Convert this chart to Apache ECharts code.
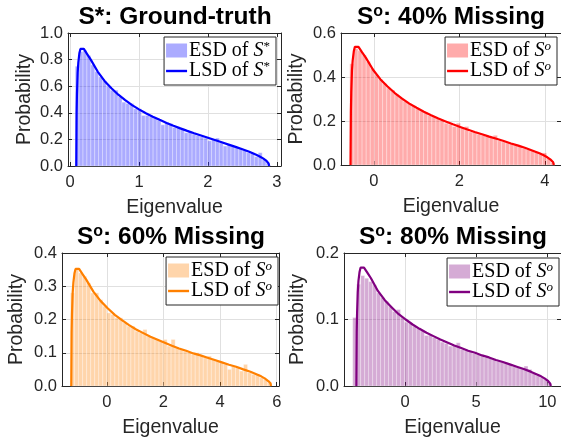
<!DOCTYPE html>
<html>
<head>
<meta charset="utf-8">
<script src="https://cdn.jsdelivr.net/npm/echarts@6/dist/echarts.min.js"></script>
<style>
  html, body { margin: 0; padding: 0; background: #fff; }
  #chart { width: 561px; height: 444px; }
</style>
</head>
<body>
<div id="chart"></div>
<script>
// histogram bins: first edge, bin width, bar heights
const esd1Start = 0.075, esd1Width = 0.0565;
const esd1 = [0.75, 0.86, 0.87, 0.83, 0.76, 0.71, 0.67, 0.64, 0.60, 0.57, 0.57, 0.52, 0.48, 0.47, 0.47, 0.43, 0.43, 0.38, 0.38, 0.37,
  0.36, 0.345, 0.31, 0.33, 0.32, 0.29, 0.29, 0.28, 0.25, 0.26, 0.24, 0.23, 0.22, 0.21, 0.19, 0.20, 0.21, 0.18, 0.15, 0.16,
  0.15, 0.14, 0.13, 0.12, 0.10, 0.10, 0.07, 0.10, 0.05, 0.02];

const esd2Start = -0.564, esd2Width = 0.096;
const esd2 = [0.46, 0.53, 0.52, 0.50, 0.47, 0.44, 0.41, 0.39, 0.37, 0.35, 0.34, 0.32, 0.305, 0.29, 0.28, 0.27, 0.255, 0.245, 0.24, 0.225,
  0.22, 0.21, 0.205, 0.19, 0.185, 0.175, 0.19, 0.17, 0.175, 0.15, 0.15, 0.14, 0.135, 0.13, 0.125, 0.135, 0.11, 0.105, 0.10, 0.10,
  0.09, 0.085, 0.075, 0.07, 0.065, 0.06, 0.05, 0.055, 0.03, 0.01];

const esd3Start = -1.278, esd3Width = 0.142;
const esd3 = [0.28, 0.35, 0.34, 0.33, 0.31, 0.28, 0.28, 0.26, 0.24, 0.22, 0.215, 0.205, 0.205, 0.19, 0.18, 0.18, 0.165, 0.16, 0.17, 0.15,
  0.145, 0.14, 0.135, 0.14, 0.12, 0.14, 0.115, 0.11, 0.105, 0.10, 0.095, 0.10, 0.09, 0.085, 0.09, 0.08, 0.075, 0.07, 0.065, 0.05,
  0.06, 0.055, 0.045, 0.065, 0.04, 0.035, 0.035, 0.025, 0.02, 0.01];

const esd4Start = -3.68, esd4Width = 0.28;
const esd4 = [0.103, 0.153, 0.166, 0.162, 0.157, 0.152, 0.14, 0.133, 0.127, 0.12, 0.112, 0.115, 0.104, 0.096, 0.094, 0.09, 0.087, 0.083, 0.076, 0.077,
  0.073, 0.07, 0.066, 0.064, 0.06, 0.061, 0.065, 0.055, 0.053, 0.052, 0.049, 0.047, 0.045, 0.043, 0.042, 0.04, 0.037, 0.036, 0.035, 0.033,
  0.029, 0.028, 0.026, 0.03, 0.025, 0.019, 0.016, 0.013, 0.01, 0.004];

// limiting spectral density curves [eigenvalue, probability]
const lsd1 = [[0.09, 0], [0.095, 0.40], [0.1, 0.54], [0.11, 0.70], [0.12, 0.78], [0.135, 0.847], [0.15, 0.88], [0.17, 0.89], [0.2, 0.88],
  [0.25, 0.84], [0.3, 0.80], [0.4, 0.71], [0.5, 0.64], [0.6, 0.585], [0.7, 0.536], [0.8, 0.495], [0.9, 0.458], [1.0, 0.426], [1.1, 0.397],
  [1.2, 0.371], [1.3, 0.347], [1.4, 0.324], [1.5, 0.303], [1.6, 0.283], [1.7, 0.264], [1.8, 0.246], [1.9, 0.229], [2.0, 0.212], [2.1, 0.195],
  [2.2, 0.178], [2.3, 0.161], [2.4, 0.144], [2.5, 0.126], [2.6, 0.107], [2.7, 0.085], [2.75, 0.072], [2.8, 0.057], [2.85, 0.038], [2.88, 0.019], [2.89, 0]];

const lsd2 = [[-0.547, 0], [-0.5385, 0.24], [-0.53, 0.33], [-0.513, 0.43], [-0.496, 0.476], [-0.4705, 0.517], [-0.445, 0.537], [-0.411, 0.543],
  [-0.36, 0.537], [-0.275, 0.512], [-0.19, 0.488], [-0.02, 0.433], [0.15, 0.39], [0.32, 0.357], [0.49, 0.327], [0.66, 0.302], [0.83, 0.279],
  [1.0, 0.26], [1.17, 0.242], [1.34, 0.226], [1.51, 0.211], [1.68, 0.198], [1.85, 0.185], [2.02, 0.173], [2.19, 0.161], [2.36, 0.150],
  [2.53, 0.140], [2.70, 0.129], [2.87, 0.119], [3.04, 0.109], [3.21, 0.098], [3.38, 0.088], [3.55, 0.077], [3.72, 0.065], [3.89, 0.052],
  [3.975, 0.044], [4.06, 0.035], [4.145, 0.023], [4.196, 0.012], [4.213, 0]];

const lsd3 = [[-1.253, 0], [-1.241, 0.16], [-1.228, 0.216], [-1.203, 0.28], [-1.178, 0.312], [-1.14, 0.339], [-1.102, 0.352], [-1.052, 0.356],
  [-0.976, 0.352], [-0.85, 0.336], [-0.724, 0.32], [-0.472, 0.284], [-0.22, 0.256], [0.032, 0.234], [0.284, 0.214], [0.536, 0.198],
  [0.788, 0.183], [1.04, 0.170], [1.292, 0.159], [1.544, 0.148], [1.796, 0.139], [2.048, 0.130], [2.30, 0.121], [2.552, 0.113], [2.804, 0.106],
  [3.056, 0.098], [3.308, 0.092], [3.56, 0.085], [3.812, 0.078], [4.064, 0.071], [4.316, 0.064], [4.568, 0.058], [4.82, 0.050], [5.072, 0.043],
  [5.324, 0.034], [5.45, 0.029], [5.576, 0.023], [5.702, 0.015], [5.778, 0.008], [5.80, 0]];

const lsd4 = [[-3.421, 0], [-3.396, 0.081], [-3.372, 0.109], [-3.323, 0.141], [-3.274, 0.158], [-3.201, 0.171], [-3.128, 0.178], [-3.03, 0.180],
  [-2.884, 0.178], [-2.64, 0.170], [-2.396, 0.162], [-1.908, 0.143], [-1.42, 0.129], [-0.932, 0.118], [-0.444, 0.108], [0.044, 0.100],
  [0.532, 0.0925], [1.02, 0.086], [1.508, 0.080], [1.996, 0.075], [2.484, 0.070], [2.972, 0.0655], [3.46, 0.061], [3.948, 0.057], [4.436, 0.053],
  [4.924, 0.050], [5.412, 0.046], [5.90, 0.043], [6.388, 0.039], [6.876, 0.036], [7.364, 0.0325], [7.852, 0.029], [8.34, 0.0255], [8.828, 0.0216],
  [9.316, 0.017], [9.56, 0.0145], [9.804, 0.0115], [10.048, 0.0077], [10.194, 0.0038], [10.243, 0]];

const xTicks = [[0, 1, 2, 3], [0, 2, 4], [0, 2, 4, 6], [0, 5, 10]];
const xRange = [[-0.03, 3.06], [-0.77, 4.38], [-1.58, 6.08], [-4.29, 10.96]];
const yMax = [1.0, 0.6, 0.4, 0.2];
const yStep = [0.2, 0.2, 0.1, 0.1];
const titles = ["S*: Ground-truth", "40% Missing", "60% Missing", "80% Missing"];
const colors = ["#0000ff", "#ff0000", "#ff8000", "#800080"];
const fills = ["rgba(0,0,255,0.33)", "rgba(255,0,0,0.33)", "rgba(255,128,0,0.33)", "rgba(128,0,128,0.33)"];

const axisColor = "#262626";
const gridColor = "#e0e0e0";
const sans = "Liberation Sans, Arial, sans-serif";
const serif = "Liberation Serif, Times New Roman, serif";

const grids = [
  { left: 68, right: 280, top: 33, bottom: 278 },
  { left: 341, right: -1, top: 33, bottom: 279 },
  { left: 62, right: 282, top: 253, bottom: 58 },
  { left: 344, right: -1, top: 253, bottom: 58 },
];
const yNameGap = [33, 34, 35, 36];
const titlePos = [[175, 4], [451, 4], [171, 224], [453, 224]];
const legendPos = [[285, 37], [4, 37], [283, 257], [2, 258]];

const chart = echarts.init(document.getElementById("chart"));

const xAxis = [];
const yAxis = [];
const series = [];
const legend = [];
const title = [];

for (let i = 0; i < 4; i++) {
  xAxis.push({
    gridIndex: i, type: "value", min: xRange[i][0], max: xRange[i][1], position: "bottom",
    name: "Eigenvalue", nameLocation: "middle", nameGap: 32,
    nameTextStyle: { color: axisColor, fontSize: 19.5, fontFamily: sans },
    axisLine: { show: true, onZero: false, lineStyle: { color: axisColor } },
    axisTick: { inside: true, length: 4, customValues: xTicks[i], lineStyle: { color: axisColor } },
    axisLabel: { customValues: xTicks[i], margin: 8, color: axisColor, fontSize: 16.5, fontFamily: sans },
    splitLine: { show: true, lineStyle: { color: gridColor } },
  });
  yAxis.push({
    gridIndex: i, type: "value", min: 0, max: yMax[i], interval: yStep[i], position: "left",
    name: "Probability", nameLocation: "middle", nameGap: yNameGap[i],
    nameTextStyle: { color: axisColor, fontSize: 19.5, fontFamily: sans },
    axisLine: { show: true, onZero: false, lineStyle: { color: axisColor } },
    axisTick: { inside: true, length: 4, lineStyle: { color: axisColor } },
    axisLabel: { margin: 5, color: axisColor, fontSize: 16.5, fontFamily: sans, formatter: (v) => v.toFixed(1) },
    splitLine: { show: true, lineStyle: { color: gridColor } },
  });
}
for (let i = 0; i < 4; i++) {
  xAxis.push({
    gridIndex: i, type: "value", min: xRange[i][0], max: xRange[i][1], position: "top",
    axisLine: { show: true, onZero: false, lineStyle: { color: axisColor } },
    axisTick: { inside: true, length: 4, customValues: xTicks[i], lineStyle: { color: axisColor } },
    axisLabel: { show: false }, splitLine: { show: false },
  });
  yAxis.push({
    gridIndex: i, type: "value", min: 0, max: yMax[i], interval: yStep[i], position: "right",
    axisLine: { show: true, onZero: false, lineStyle: { color: axisColor } },
    axisTick: { inside: true, length: 4, lineStyle: { color: axisColor } },
    axisLabel: { show: false }, splitLine: { show: false },
  });
}

const esdList = [[esd1Start, esd1Width, esd1], [esd2Start, esd2Width, esd2], [esd3Start, esd3Width, esd3], [esd4Start, esd4Width, esd4]];
const lsdList = [lsd1, lsd2, lsd3, lsd4];

for (let i = 0; i < 4; i++) {
  const [start, width, heights] = esdList[i];
  const fill = fills[i];
  series.push({
    type: "custom", name: "esd" + i, xAxisIndex: i, yAxisIndex: i,
    itemStyle: { color: fill },
    data: heights.map((h, k) => [start + k * width, start + (k + 1) * width, h]),
    encode: { x: [0, 1], y: 2 },
    renderItem: (params, api) => {
      const p0 = api.coord([api.value(0), api.value(2)]);
      const p1 = api.coord([api.value(1), 0]);
      return {
        type: "rect",
        shape: { x: p0[0], y: p0[1], width: p1[0] - p0[0], height: p1[1] - p0[1] },
        style: { fill: fill, stroke: "rgba(255,255,255,0.55)", lineWidth: 0.6 },
      };
    },
  });
  series.push({
    type: "line", name: "lsd" + i, xAxisIndex: i, yAxisIndex: i,
    data: lsdList[i], showSymbol: false, symbol: "none",
    color: colors[i],
    lineStyle: { color: colors[i], width: 2.2 },
  });

  const sup = i === 0 ? "*" : "o";
  legend.push({
    right: legendPos[i][0], top: legendPos[i][1], orient: "vertical",
    itemGap: 0, itemWidth: 21, itemHeight: 14,
    padding: [3, 6, 4, 2],
    backgroundColor: "#fff", borderColor: axisColor, borderWidth: 1, borderRadius: 0,
    selectedMode: false,
    data: [
      { name: "esd" + i, icon: "rect", itemStyle: { color: fill } },
      { name: "lsd" + i, icon: "path://M0,0h21v2.4h-21z", itemStyle: { color: colors[i] } },
    ],
    formatter: (name) => (name.startsWith("esd") ? "{r|ESD of }" : "{r|LSD of }") + "{i|S}{s|" + sup + "}",
    textStyle: {
      padding: [0, 0, 0, -3],
      rich: {
        r: { fontFamily: serif, fontSize: 20, color: "#000", lineHeight: 21 },
        i: { fontFamily: serif, fontSize: 20, fontStyle: "italic", color: "#000", lineHeight: 21 },
        s: { fontFamily: serif, fontSize: 13, fontStyle: i === 0 ? "normal" : "italic", color: "#000", lineHeight: 14, verticalAlign: "top" },
      },
    },
  });

  title.push({
    left: titlePos[i][0], top: titlePos[i][1], textAlign: "center", padding: 0,
    text: i === 0 ? "{t|" + titles[0] + "}" : "{t|S}{o|o}{t|: " + titles[i] + "}",
    textStyle: {
      rich: {
        t: { fontFamily: sans, fontSize: 24.5, fontWeight: "bold", color: "#000", lineHeight: 26 },
        o: { fontFamily: sans, fontSize: 16, fontWeight: "bold", color: "#000", lineHeight: 8, verticalAlign: "top" },
      },
    },
  });
}

chart.setOption({
  animation: false,
  backgroundColor: "#fff",
  grid: grids.map((g) => ({ ...g, show: false, containLabel: false })),
  xAxis,
  yAxis,
  series,
  legend,
  title,
});
</script>
</body>
</html>
